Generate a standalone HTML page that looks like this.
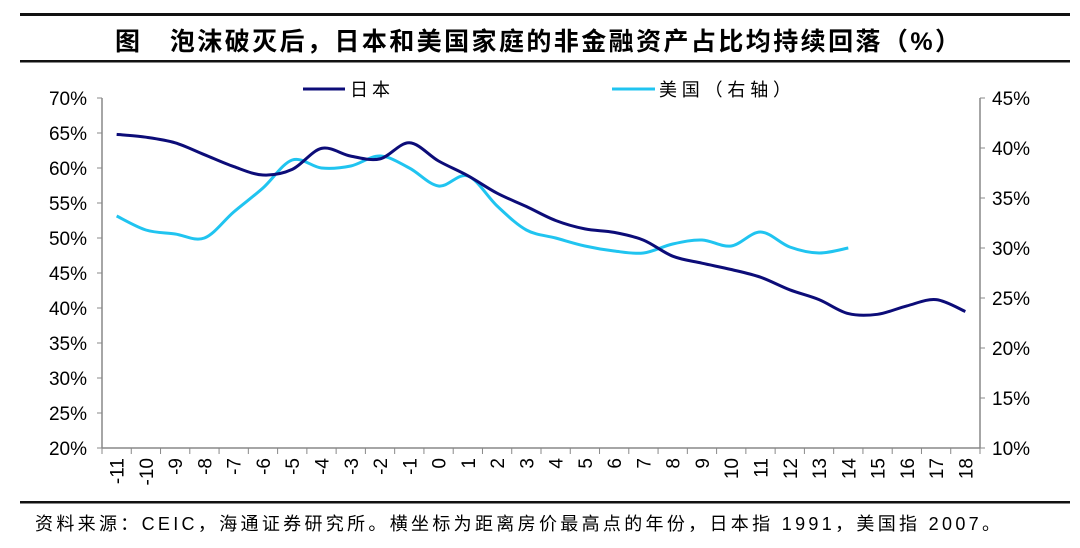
<!DOCTYPE html>
<html><head><meta charset="utf-8"><style>
body{margin:0;background:#fff;}
svg text{font-family:"Liberation Sans","Noto Sans CJK SC",sans-serif;}
</style></head><body>
<svg id="c" width="1080" height="543">
<rect x="20" y="13" width="1050" height="3" fill="#111"/>
<text x="115" y="50" font-size="25" font-weight="bold" fill="#000" textLength="845" lengthAdjust="spacing">图　泡沫破灭后，日本和美国家庭的非金融资产占比均持续回落（%）</text>
<rect x="20" y="60" width="1050" height="2.5" fill="#111"/>
<g>
<line x1="303" y1="89" x2="345" y2="89" stroke="#0c0c78" stroke-width="3"/>
<text x="350" y="96" font-size="18" textLength="40">日本</text>
<line x1="612" y1="89" x2="655" y2="89" stroke="#20c4f0" stroke-width="3"/>
<text x="659" y="96" font-size="18" textLength="132">美国（右轴）</text>
</g>
<g id="axes"></g>
<g id="marks"></g>
<rect x="20" y="501" width="1050" height="2.5" fill="#111"/>
<text x="35" y="530" font-size="18" fill="#000" textLength="965" lengthAdjust="spacing">资料来源：CEIC，海通证券研究所。横坐标为距离房价最高点的年份，日本指 1991，美国指 2007。</text>
</svg>
<script>
const categories=[-11,-10,-9,-8,-7,-6,-5,-4,-3,-2,-1,0,1,2,3,4,5,6,7,8,9,10,11,12,13,14,15,16,17,18];
const japanValues=[64.8,64.4,63.6,61.9,60.2,59.0,59.8,62.8,61.7,61.3,63.6,61.0,58.9,56.4,54.5,52.5,51.3,50.8,49.7,47.4,46.4,45.5,44.4,42.6,41.2,39.2,39.1,40.3,41.2,39.5];
const usValues=[33.2,31.8,31.4,31.0,33.6,36.0,38.8,38.0,38.2,39.2,38.0,36.2,37.2,34.2,31.8,31.0,30.2,29.7,29.5,30.4,30.8,30.2,31.6,30.1,29.5,30.0];
const leftTicks=[20,25,30,35,40,45,50,55,60,65,70];
const rightTicks=[10,15,20,25,30,35,40,45];
const NS="http://www.w3.org/2000/svg";
const X0=102,X1=980,Y0=448,Y1=98;
const step=(X1-X0)/categories.length;
function xs(i){return X0+step*(i+0.5);}
function yl(v){return Y0-(v-20)/50*(Y0-Y1);}
function yr(v){return Y0-(v-10)/35*(Y0-Y1);}
function mk(tag,attrs,parent){const e=document.createElementNS(NS,tag);for(const k in attrs)e.setAttribute(k,attrs[k]);parent.appendChild(e);return e;}
const ax=document.getElementById('axes'),mg=document.getElementById('marks');
let e=mk('line',{x1:X0,y1:Y1,x2:X0,y2:Y0,stroke:'#888','stroke-width':1.5},ax);


e=mk('line',{x1:X1,y1:Y1,x2:X1,y2:Y0,stroke:'#888','stroke-width':1.5},ax);


e=mk('line',{x1:X0,y1:Y0,x2:X1,y2:Y0,stroke:'#888','stroke-width':1.5},ax);


leftTicks.forEach(v=>{const y=yl(v);
 mk('line',{x1:X0-5,y1:y,x2:X0,y2:y,stroke:'#888'},ax);
 const t=mk('text',{x:X0-15,y:y+7,'text-anchor':'end','font-size':19},ax);t.textContent=v+'%';
 
 });
rightTicks.forEach(v=>{const y=yr(v);
 mk('line',{x1:X1,y1:y,x2:X1+5,y2:y,stroke:'#888'},ax);
 const t=mk('text',{x:X1+12,y:y+7,'font-size':19},ax);t.textContent=v+'%';
 
 });
for(let i=0;i<=categories.length;i++){const x=X0+step*i;mk('line',{x1:x,y1:Y0,x2:x,y2:Y0+6,stroke:'#888'},ax);}
categories.forEach((c,i)=>{const x=xs(i);
 const t=mk('text',{x:0,y:0,'font-size':19,'text-anchor':'end',transform:`translate(${x+7},${Y0+10}) rotate(-90)`},ax);
 t.textContent=String(c);
 
 });
function path(pts){let d=`M${pts[0][0]},${pts[0][1]}`;
 for(let i=0;i<pts.length-1;i++){const p0=pts[Math.max(0,i-1)],p1=pts[i],p2=pts[i+1],p3=pts[Math.min(pts.length-1,i+2)];
  const c1=[p1[0]+(p2[0]-p0[0])/6,p1[1]+(p2[1]-p0[1])/6],c2=[p2[0]-(p3[0]-p1[0])/6,p2[1]-(p3[1]-p1[1])/6];
  d+=` C${c1[0]},${c1[1]} ${c2[0]},${c2[1]} ${p2[0]},${p2[1]}`;}return d;}
e=mk('path',{d:path(usValues.map((v,i)=>[xs(i),yr(v)])),fill:'none',stroke:'#20c4f0','stroke-width':3},mg);


e=mk('path',{d:path(japanValues.map((v,i)=>[xs(i),yl(v)])),fill:'none',stroke:'#0c0c78','stroke-width':3},mg);


</script>
</body></html>
